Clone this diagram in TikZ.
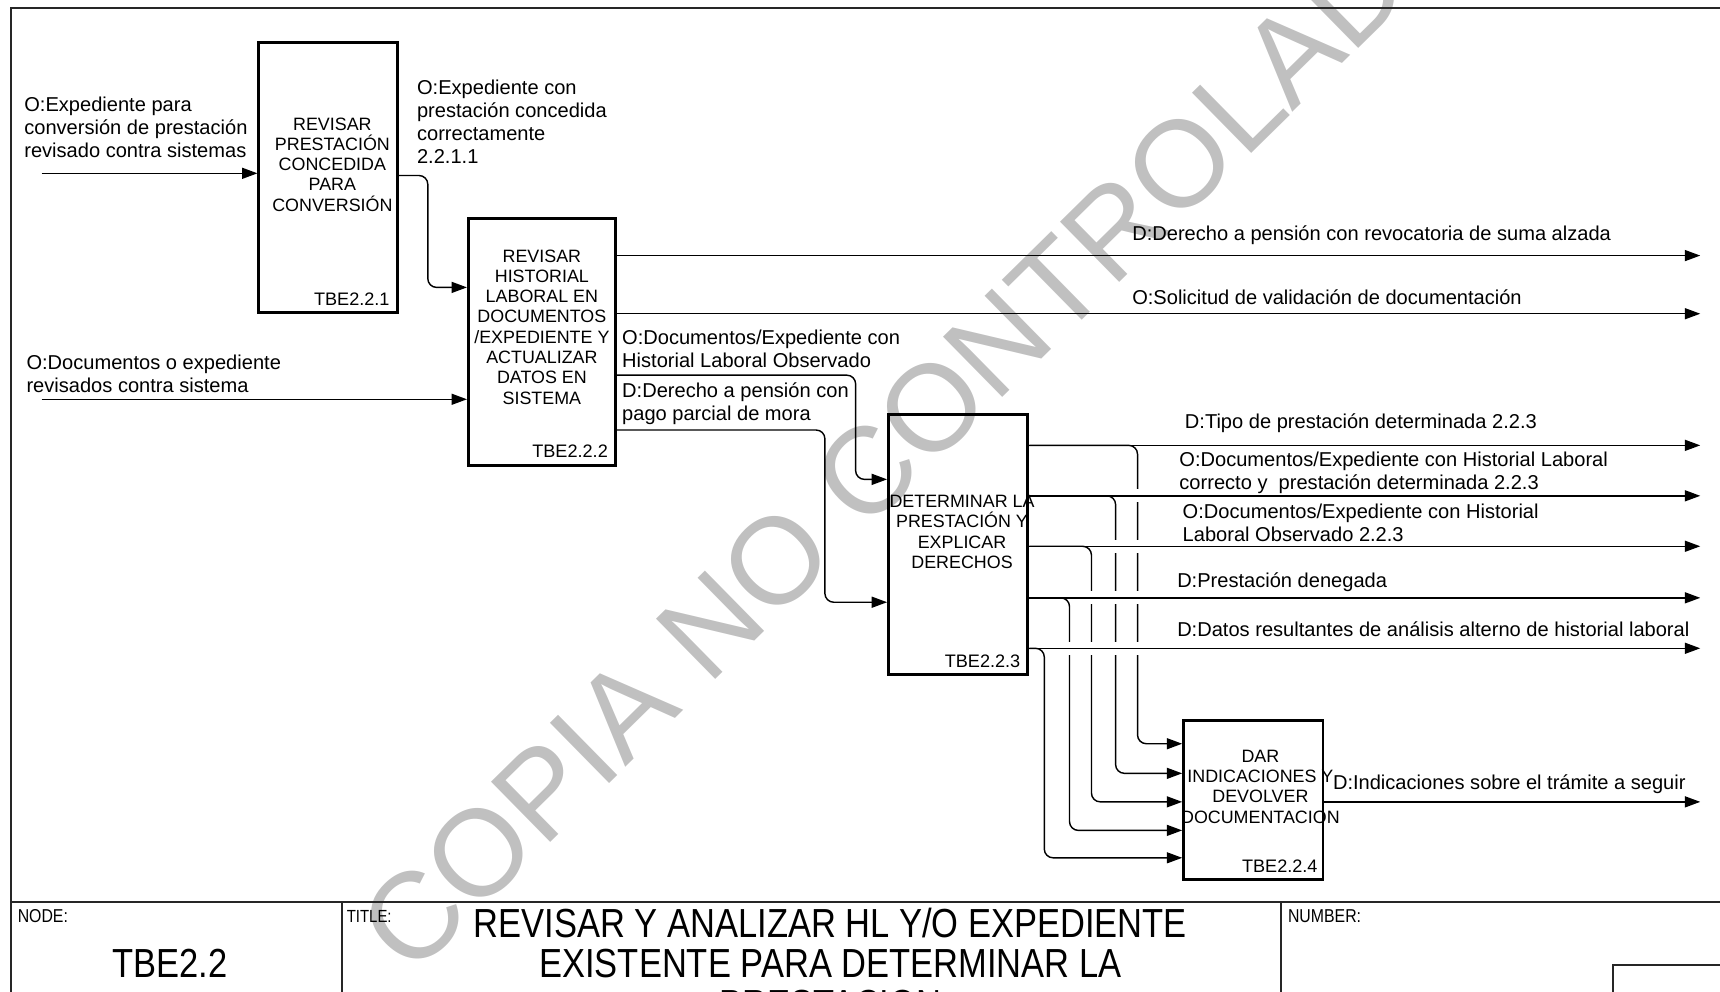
\documentclass[tikz,border=0pt]{standalone}
\usepackage{fontspec}
\setmainfont{Liberation Sans}
\newfontfamily\condfont[FakeStretch=0.85]{Liberation Sans}
\usetikzlibrary{arrows.meta,calc}
\definecolor{wmgray}{HTML}{C0C0C0}
\begin{document}
\begin{tikzpicture}[x=1pt,y=-1pt,
  conn/.style={line width=1.3pt,-{Triangle[length=14pt,width=10pt]}},
  frameline/.style={line width=1.8pt,black!85},
  proc/.style={draw,line width=2.6pt,inner sep=0pt},
  btxt/.style={align=center,inner sep=0pt,font=\fontsize{16.3}{18.5}\selectfont},
  bnum/.style={anchor=base east,inner sep=0pt,font=\fontsize{16.5}{18}\selectfont},
  lab/.style={anchor=base west,align=left,inner sep=0pt,font=\fontsize{18.3}{21}\selectfont},
  gap/.style={white,line width=3.5pt}
]
\useasboundingbox (0,0) rectangle (1568,904);
\clip (0,0) rectangle (1568,904);

% watermark
\node[rotate=44.5,text=wmgray,inner sep=0pt,font=\fontsize{112}{112}\selectfont] (wm) at (832,389) {COPIA NO CONTROLADA};

% frame and title block
\draw[frameline] (1600,7) -- (10,7) -- (10,1000);
\draw[frameline] (10,822) -- (1600,822);
\draw[frameline] (312,822) -- (312,1000);
\draw[frameline] (1168,822) -- (1168,1000);
\draw[frameline] (1600,880) -- (1470,880) -- (1470,1000);

% boxes
\node[proc,minimum width=126pt,minimum height=246pt] (b1) at (299,162) {};
\node[proc,minimum width=134pt,minimum height=225pt] (b2) at (494,311.5) {};
\node[proc,minimum width=127pt,minimum height=237pt] (b3) at (873.5,496.5) {};
\node[proc,minimum width=127pt,minimum height=145pt] (b4) at (1142.5,729.5) {};

% free ends
\coordinate (in1) at (38,158);
\coordinate (in2) at (38,364);
\coordinate (o1) at (1550,233);
\coordinate (o2) at (1550,286);
\coordinate (o3) at (1550,406);
\coordinate (o4) at (1550,452);
\coordinate (o5) at (1550,498);
\coordinate (o6) at (1550,545);
\coordinate (o7) at (1550,591);
\coordinate (o8) at (1550,731);

% inputs
\draw[conn] (in1) -- (b1.west |- in1);
\draw[conn] (in2) -- (b2.west |- in2);

% box1 -> box2
\draw[conn,rounded corners=8pt] (b1.east |- 0,160) -- (390,160) -- (390,262) -- (b2.west |- 0,262);

% box2 outputs
\draw[conn] (b2.east |- o1) -- (o1);
\draw[conn] (b2.east |- o2) -- (o2);
\draw[conn,rounded corners=8pt] (b2.east |- 0,342) -- (780,342) -- (780,437) -- (b3.west |- 0,437);
\draw[conn,rounded corners=8pt] (b2.east |- 0,392) -- (752,392) -- (752,549) -- (b3.west |- 0,549);

% branches box3 -> box4
\draw[conn,rounded corners=8pt] (b3.east |- o3) -- (1037,406) -- (1037,678) -- (b4.west |- 0,678);
\draw[conn,rounded corners=8pt] (b3.east |- o4) -- (1017,452) -- (1017,705) -- (b4.west |- 0,705);
\draw[conn,rounded corners=8pt] (b3.east |- o5) -- (995,498) -- (995,731) -- (b4.west |- 0,731);
\draw[conn,rounded corners=8pt] (b3.east |- o6) -- (975,545) -- (975,757) -- (b4.west |- 0,757);
\draw[conn,rounded corners=8pt] (b3.east |- o7) -- (952,591) -- (952,782) -- (b4.west |- 0,782);

% line jumps
\foreach \xx/\yy in {1037/452,1037/498,1037/545,1037/591,1017/498,1017/545,1017/591,995/545,995/591,975/591}
  \draw[gap] (\xx,\yy-6) -- (\xx,\yy+6);

% box3 outputs
\draw[conn] (b3.east |- o3) -- (o3);
\draw[conn] (b3.east |- o4) -- (o4);
\draw[conn] (b3.east |- o5) -- (o5);
\draw[conn] (b3.east |- o6) -- (o6);
\draw[conn] (b3.east |- o7) -- (o7);

% box4 output
\draw[conn] (b4.east |- o8) -- (o8);

% box texts
\node[btxt] (t1) at (303,150) {REVISAR\\PRESTACIÓN\\CONCEDIDA\\PARA\\CONVERSIÓN};
\node[btxt] (t2) at (494,298) {REVISAR\\HISTORIAL\\LABORAL EN\\DOCUMENTOS\\/EXPEDIENTE Y\\ACTUALIZAR\\DATOS EN\\SISTEMA};
\node[btxt] (t3) at (877,485) {DETERMINAR LA\\PRESTACIÓN Y\\EXPLICAR\\DERECHOS};
\node[btxt] (t4) at (1149,717) {DAR\\INDICACIONES Y\\DEVOLVER\\DOCUMENTACION};

\node[bnum] (n1) at ($(b1.south east)+(-8,-8)$) {TBE2.2.1};
\node[bnum] (n2) at ($(b2.south east)+(-8,-8)$) {TBE2.2.2};
\node[bnum] (n3) at ($(b3.south east)+(-8,-8)$) {TBE2.2.3};
\node[bnum] (n4) at ($(b4.south east)+(-6,-8)$) {TBE2.2.4};

% arrow labels (anchor at the baseline of the last line)
\node[lab] (l1) at (22,144) {O:Expediente para\\conversión de prestación\\revisado contra sistemas};
\node[lab] (l2) at (380,149) {O:Expediente con\\prestación concedida\\correctamente\\2.2.1.1};
\node[lab] (l3) at (24,358) {O:Documentos o expediente\\revisados contra sistema};
\node[lab] (l4) at (1032,219) {D:Derecho a pensión con revocatoria de suma alzada};
\node[lab] (l5) at (1032,278) {O:Solicitud de validación de documentación};
\node[lab] (l6) at (567,335) {O:Documentos/Expediente con\\Historial Laboral Observado};
\node[lab] (l7) at (567,383) {D:Derecho a pensión con\\pago parcial de mora};
\node[lab] (l8) at (1080,391) {D:Tipo de prestación determinada 2.2.3};
\node[lab] (l9) at (1075,446) {O:Documentos/Expediente con Historial Laboral\\correcto y\ \ prestación determinada 2.2.3};
\node[lab] (l10) at (1078,494) {O:Documentos/Expediente con Historial\\Laboral Observado 2.2.3};
\node[lab] (l11) at (1073,536) {D:Prestación denegada};
\node[lab] (l12) at (1073,580) {D:Datos resultantes de análisis alterno de historial laboral};
\node[lab] (l13) at (1215,720) {D:Indicaciones sobre el trámite a seguir};

% title block texts
\node[anchor=base west,inner sep=0pt,font=\condfont\fontsize{17}{18}\selectfont] (nodelab) at (16,841) {NODE:};
\node[inner sep=0pt,font=\condfont\fontsize{37}{38}\selectfont] (nodeval) at (155,878) {TBE2.2};
\node[anchor=base west,inner sep=0pt,font=\condfont\fontsize{16}{18}\selectfont] (titlelab) at (316,841) {TITLE:};
\node[inner sep=0pt,align=center,font=\condfont\fontsize{37}{37}\selectfont] (titleval) at (757,878) {REVISAR Y ANALIZAR HL Y/O EXPEDIENTE\\EXISTENTE PARA DETERMINAR LA\\PRESTACION};
\node[anchor=base west,inner sep=0pt,font=\condfont\fontsize{17}{18}\selectfont] (numlab) at (1174,841) {NUMBER:};
\end{tikzpicture}
\end{document}
